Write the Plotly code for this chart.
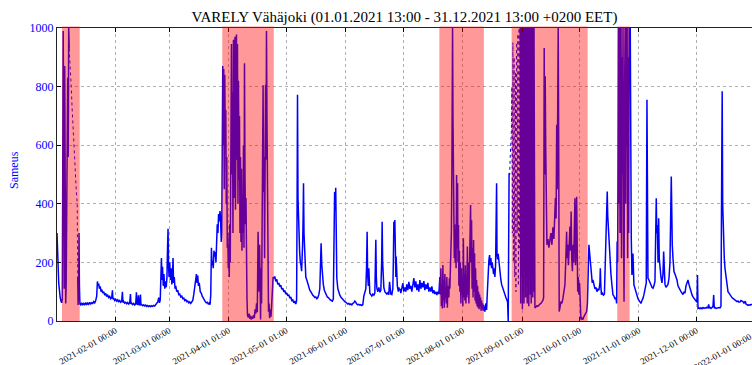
import pandas as pd
import plotly.graph_objects as go

# ---------------- data (day offsets from 2021-01-01 00:00 +0200, turbidity values) -------------
days_jan = [0.52,0.68,0.89,1.10,1.41,1.77,2.19,2.61,2.97,3.29,3.50,3.76,4.02,4.28,4.54,4.80,5.06,5.32,5.58,5.84,
            6.10,6.37,6.63,6.89,7.00,11.32,11.53,11.79,12.00,12.21,12.47,
            12.89,13.41,13.93,14.45,14.98,15.50,16.02,16.54,17.06,17.58,18.10,18.63,19.15,19.67,20.19,20.71,21.23,
            21.60,21.91,22.28,22.64,23.06,23.48,23.84,24.36,24.89,25.41,25.93,26.45,26.97,27.49,28.02,28.54,29.06,
            29.43,29.69,30.10,30.62,31.15,31.67,32.19,32.71,33.23,33.75,34.28,34.64,34.90,35.32,35.84,36.36,36.88,
            37.41,37.93,38.45,38.82,39.08,39.49,40.01,40.54,41.06,41.58,41.95,42.21,42.62,42.99,43.25,43.67,44.03,
            44.29,44.71,45.23,45.75,46.27,46.80,47.32,47.84,48.36,48.88,49.40,49.93,50.45,50.97,51.49,52.01,52.54,
            53.06,53.58,53.95,54.36,54.78,54.99,55.25,55.56,55.93,56.29,56.71,57.13,57.49,57.86,58.17,58.43,58.69,
            58.96,59.32,59.68,60.05,60.42,60.78,61.04,61.30,61.67,62.09,62.45,62.97,63.49,64.01,64.53,65.06,65.58,
            66.10,66.62,67.14,67.66,68.19,68.71,69.23,69.75,70.27,70.79,71.32,71.84,72.36,72.88,73.24,73.56,73.92,
            74.29,74.71,75.23,75.75,76.27,76.79,77.32,77.84,78.36,78.88,79.40,79.92,80.34,80.71,81.07,81.34,81.65,
            82.01,82.38,82.69,83.06,83.42,83.74,84.10,84.47,84.78,85.14,85.51,85.82,86.19,86.45]
vals_jan = [300,240,265,190,130,100,80,68,62,75,400,990,620,110,870,320,60,130,420,760,
            830,560,1000,930,None,150,55,120,300,120,58,
            55,62,54,60,56,63,55,61,57,64,58,62,60,66,62,70,85,
            135,120,128,110,118,100,108,95,100,88,94,84,88,80,84,76,80,
            105,74,78,70,74,68,72,66,70,64,68,100,63,67,61,64,59,
            63,58,62,92,58,61,56,60,55,59,98,56,58,88,54,57,90,
            55,56,52,55,51,54,50,53,49,52,49,52,50,53,51,55,58,
            65,80,62,72,150,215,140,185,120,160,110,135,115,150,250,315,190,
            150,200,140,180,125,165,215,130,150,110,120,100,105,90,92,82,85,
            76,78,70,73,66,68,62,65,60,64,70,90,120,140,160,130,155,
            120,130,100,95,85,78,70,66,62,64,58,62,56,90,250,190,205,
            180,240,220,235,200,240,330,300,365,340,375,350,270,300]

# sparsely logged (dotted) stretch in January
days_jan_dotted = [6.89,7.41,7.93,8.45,8.97,9.50,10.02,10.54,11.06,11.32]
vals_jan_dotted = [930,880,800,720,640,560,500,450,400,150]

days_spring = [86.71,86.97,87.23,87.49,87.75,88.02,88.28,88.54,88.80,89.06,89.32,89.58,89.84,90.10,90.36,90.62,90.88,
               91.15,91.51,91.77,92.03,92.29,92.55,92.82,93.08,93.34,93.60,93.86,94.12,94.38,94.64,94.90,95.16,95.43,
               95.69,95.95,96.21,96.47,96.73,96.99,97.25,97.51,97.77,98.03,98.30,98.56,98.82,99.08,99.34,99.60,99.86,
               100.28,100.70,101.06,101.43,101.84,102.26,102.62,102.99,103.41,103.82,104.19,104.60,104.97,105.39,
               105.65,105.91,106.17,106.43,106.69,106.95,107.21,107.47,107.73,108.00,108.26,108.52,108.78,109.04,
               109.30,109.56,109.77,110.03,110.29,110.55,110.81,111.13,111.39,111.75,112.12,112.43,112.80,113.22,113.58]
vals_spring = [500,870,600,860,450,840,620,720,400,560,250,300,180,260,150,330,200,
               600,945,500,780,300,960,420,670,970,380,700,978,550,945,400,820,480,
               700,300,560,270,520,240,420,300,600,250,880,500,330,420,150,80,20,
               12,25,8,18,5,15,8,20,10,40,25,60,30,305,
               120,100,260,60,5,180,60,300,500,805,440,560,214,700,
               806,550,990,690,440,157,32,60,10,40,15,50,100,150,145]

days_summer = [114.10,114.62,115.15,115.67,116.19,116.71,117.23,117.75,118.28,118.80,119.32,119.84,120.36,120.89,
               121.41,121.93,122.45,122.97,123.49,124.02,124.54,125.06,125.48,125.74,125.95,126.21,126.52,126.78,
               127.04,127.41,127.77,128.08,128.40,128.61,128.87,129.08,129.34,129.60,129.91,130.28,130.80,131.32,
               131.84,132.36,132.89,133.41,133.93,134.45,134.97,135.49,136.02,136.54,137.06,137.58,137.95,138.26,
               138.63,138.99,139.41,139.93,140.45,140.97,141.50,142.02,142.54,143.06,143.58,144.11,144.63,145.04,
               145.30,145.56,145.88,146.14,146.45,
               146.98,147.50,148.02,148.54,149.06,149.58,150.10,150.63,151.15,151.67,152.19,152.71,153.23,153.76,
               154.28,154.80,155.32,155.84,156.37,156.89,157.41,157.93,158.45,158.97,159.50,160.02,160.54,161.06,
               161.58,161.95,162.26,162.52,162.89,163.15,163.41,163.67,164.19,164.71,165.24,165.76,166.28,166.59,
               166.80,167.06,167.32,167.85,168.37,168.89,169.41,169.83,170.09,170.35,170.61,170.97,171.50,172.02,
               172.54,173.06,173.58,173.95,174.26,174.63,175.15,175.67,175.93,176.19,176.45,176.71,176.97,177.24,
               177.39,177.65,178.02,178.54,178.80,179.06,179.48,179.84,180.37,180.89,181.41,181.93,182.45,182.97,
               183.50,184.02,184.54,185.06,185.58,186.11,186.63,187.15,187.67,188.19,188.71,189.24,189.76,190.28,
               190.80,191.32,191.85,192.37,192.89,193.41,193.93,194.45,194.98,195.50,196.02,196.54,197.06,197.58,
               198.11,198.63,199.15,199.67]
vals_summer = [152,135,142,125,130,118,122,108,112,100,104,92,96,86,
               90,78,82,70,72,62,66,58,70,400,772,420,330,260,
               240,200,190,170,210,260,350,470,300,237,190,150,140,125,
               115,105,100,92,88,85,80,82,76,80,90,110,200,265,
               190,150,125,105,95,90,82,80,75,72,70,68,75,300,
               440,380,455,200,146,
               110,95,88,82,78,72,70,66,64,62,58,60,56,58,
               55,60,62,68,60,58,55,57,54,56,53,56,85,100,
               110,180,305,160,120,180,110,95,90,85,92,88,95,180,
               277,150,112,100,115,98,105,200,339,200,146,115,100,95,
               92,96,90,134,95,92,90,110,200,339,300,345,214,150,
               220,146,120,100,115,105,110,95,120,129,100,115,100,125,
               105,134,110,120,100,128,146,115,135,105,125,100,140,110,
               130,115,136,105,125,110,130,100,115,100,118,95,105,92,
               100,89,100,92]

days_july = [200.19,200.51,200.72,200.98,201.24,201.50,201.76,202.02,202.28,202.54,202.80,203.06,203.32,203.58,
             203.84,204.11,204.37,204.63,204.89,205.15,205.41,205.67,205.93,206.19,206.45,206.71,206.82,207.03,
             207.24,207.50,207.71,207.92,208.18,208.39,208.65,208.91,209.12,209.43,209.64,209.90,210.11,210.37,
             210.63,210.89,211.15,211.41,211.67,211.93,212.19,212.45,212.71,212.98,213.24,213.50,213.76,214.02,
             214.28,214.54,214.80,215.06,215.33,215.59,215.90,216.21,216.47,216.73,216.99,217.25,217.51,217.77,
             218.04,218.30,218.56,218.82,219.08,219.34,219.60,219.86,220.12,220.38,220.65,220.91,221.17,221.43,
             221.69,221.95,222.21,222.47,222.73,222.99,223.31,
             223.67,224.19,224.56,224.97,225.39,225.76,226.12,226.44,226.80,227.17,227.48,227.85,228.21,228.52,
             228.89,229.25,229.57,229.78,229.99,230.30,230.61,230.98,231.34,231.66,232.02,232.39,232.80,233.22,
             233.69,234.11,234.63,235.15,235.52,235.83,236.09,236.30,236.40]
vals_july = [150,90,180,50,120,43,191,70,140,45,160,80,100,60,
             150,45,120,100,80,146,110,200,160,300,500,900,1000,700,
             465,300,214,330,200,294,180,498,250,470,200,328,120,240,
             100,200,60,180,90,140,50,282,80,160,70,190,60,150,
             80,254,90,200,60,170,260,396,200,344,110,250,80,276,
             100,231,70,180,60,140,50,120,45,100,40,90,50,80,
             35,70,40,60,35,55,40,
             32,60,38,100,184,207,225,190,215,180,200,170,160,180,
             150,190,300,470,230,210,229,200,180,160,140,125,115,105,
             100,92,80,72,65,0,300,504,None]

# sparsely logged (dotted) stretch at the start of September
days_sep_dotted = [236.30,236.61,236.88,237.19,237.50,237.76,238.02,238.28,238.54,238.91,239.22,239.59,239.85,
                   240.21,240.53,240.89,241.15,241.52,241.78,242.09]
vals_sep_dotted = [504,500,560,606,650,800,300,950,200,900,150,850,100,
                   950,300,980,120,1000,250,1000]

days_sep = [242.09,242.35,242.61,242.82,243.03,243.24,243.44,243.65,243.86,244.07,244.28,244.49,244.70,244.91,
            245.12,245.33,245.54,245.74,245.95,246.16,246.37,246.58,246.79,247.00,247.20,247.41,247.62,247.83,
            248.04,248.25,248.46,248.67,248.87,249.08,249.29,249.50,249.76,250.28,250.80,251.32,251.84,252.37,
            252.89,253.41,253.93,254.30,254.61,254.87,255.13,255.39,255.65,256.02,256.54,257.06,257.59,258.11,
            258.63,259.15,259.67,260.09,260.45,260.82,261.13,261.39,261.65,261.91,262.17,262.43,262.80,263.32,
            263.85,264.37,264.89,265.41,265.83,266.30,266.56,266.87,267.24,267.60,268.02,268.39,268.65,268.96,
            269.32,269.69,270.00,270.37,270.63,270.94,271.25,271.52,271.78,272.09,272.35,272.72,273.03,273.40,
            273.76,274.28,274.80,275.33,275.85,276.37,276.73,277.15]
vals_sep = [1000,60,1000,150,1000,40,1000,100,1000,60,1000,200,1000,80,
            1000,150,1000,60,1000,120,1000,50,1000,200,1000,90,1000,60,
            1000,150,1000,80,1000,100,1000,60,45,48,52,50,55,58,
            60,65,70,80,932,500,835,600,271,260,280,250,275,300,
            260,320,280,374,420,350,670,450,800,1000,600,32,45,66,
            60,77,100,123,200,305,214,260,190,250,322,240,374,214,
            170,260,200,330,419,190,240,424,170,100,150,90,130,89,
            5,10,5,15,20,25,32,60]

days_oct = [277.41,277.93,278.46,278.82,279.24,279.66,280.02,280.54,281.07,281.59,282.11,282.63,283.15,283.67,
            283.88,284.14,284.46,284.98,285.50,286.02,286.44,286.70,287.06,287.48,287.74,288.00,288.37,288.89,
            289.41,289.93,290.45,290.97,291.50,292.02,292.38,292.64,
            292.90,293.16,293.37,293.64,293.90,294.16,294.42,294.68,294.94,295.20,295.46,295.72,295.99,296.25,
            296.56,296.82,297.08,297.34,297.60,297.87,298.13,298.39,298.65,298.91]
vals_oct = [150,260,220,191,150,130,140,120,110,115,100,108,105,130,
            180,120,90,95,88,92,180,250,300,442,360,328,250,214,
            160,123,90,85,75,80,60,271,
            200,600,1000,400,1000,300,700,1000,214,900,500,1000,300,66,
            800,1000,400,1000,600,1000,214,900,300,1000]

days_winter = [299.49,299.75,300.01,300.37,300.89,301.41,301.94,302.46,302.98,303.50,304.02,304.54,305.06,305.59,
               306.11,306.63,307.31,307.83,308.20,308.56,308.72,309.24,309.76,310.28,310.80,311.33,311.85,312.37,
               312.73,313.05,313.31,313.62,313.99,314.30,314.61,314.98,315.50,316.02,316.55,316.91,317.22,317.59,
               318.11,318.63,319.15,319.68,320.20,320.88,321.14,321.40,321.77,322.29,322.81,323.33,323.85,324.37,
               324.90,325.42,325.94,326.46,326.98,327.50,328.03,328.55,329.07,329.59,330.11,330.63,331.16,331.68,
               332.20,332.72,333.24,333.76,334.29,334.55,334.81,335.33,335.85,336.37,336.89,337.42,337.94,338.46,
               338.98,339.50,340.02,340.39,340.70,341.07,341.59,342.11,342.63,343.00,343.31,343.68,344.20,344.72,
               345.24,345.76,346.28,346.80,347.17,347.43,347.69,347.95,348.21,348.53,348.89,349.41,349.93,350.46,
               350.98,351.50,352.02,352.54,353.06,353.59,354.11,354.63,355.15,355.67,356.19,356.72,357.24,357.76,
               358.28,358.80,359.48,359.85,360.37,360.89,361.41,361.94,362.46,362.98,363.50,364.54]
vals_winter = [1000,328,282,157,230,123,110,95,85,77,70,65,60,70,
               77,90,123,130,755,500,146,140,130,126,115,112,120,135,
               300,419,300,328,200,351,214,180,150,130,160,237,150,125,
               115,120,125,145,200,493,305,260,214,169,160,150,140,120,
               112,105,100,95,90,100,95,120,130,140,125,110,100,90,
               82,78,72,68,64,157,43,45,42,45,42,46,43,45,
               44,47,45,57,44,46,43,46,50,89,44,46,43,45,
               44,46,45,50,500,784,400,294,260,214,180,146,120,100,
               95,89,85,80,77,74,72,68,66,68,64,65,70,68,
               66,60,68,58,55,53,55,54,56,58,57,56]

# shaded periods (start day, end day)
span_starts = [3.13, 86.71, 199.93, 237.61, 292.70]
span_ends = [12.37, 113.58, 223.15, 277.26, 299.17]

tick_dates = ["2021-02-01 00:00", "2021-03-01 00:00", "2021-04-01 01:00", "2021-05-01 01:00",
              "2021-06-01 01:00", "2021-07-01 01:00", "2021-08-01 01:00", "2021-09-01 01:00",
              "2021-10-01 01:00", "2021-11-01 00:00", "2021-12-01 00:00"]
last_tick = "2022-01-01 00:00"
y_ticks = [0, 200, 400, 600, 800, 1000]

title_text = "VARELY Vähäjoki (01.01.2021 13:00 - 31.12.2021 13:00 +0200 EET)"
y_title = "Sameus"

# ---------------- build ----------------
base = pd.Timestamp("2021-01-01 00:00")


def to_time(days):
    return base + pd.to_timedelta(days, unit="D")


all_days = days_jan + days_spring + days_summer + days_july + days_sep + days_oct + days_winter
all_vals = vals_jan + vals_spring + vals_summer + vals_july + vals_sep + vals_oct + vals_winter

x_start = base + pd.Timedelta(days=0.52)
x_end = base + pd.Timedelta(days=362.98)

SERIF = "Liberation Serif, Times New Roman, serif"
BLUE = "#0000ff"

fig = go.Figure()
fig.add_trace(go.Scatter(x=to_time(all_days), y=all_vals, mode="lines", connectgaps=False,
                         line=dict(color=BLUE, width=1.5), hoverinfo="skip"))
for d, v in [(days_jan_dotted, vals_jan_dotted), (days_sep_dotted, vals_sep_dotted)]:
    fig.add_trace(go.Scatter(x=to_time(d), y=v, mode="lines",
                             line=dict(color=BLUE, width=1, dash="dot"), hoverinfo="skip"))

for s, e in zip(span_starts, span_ends):
    fig.add_shape(type="rect", xref="x", yref="paper",
                  x0=base + pd.Timedelta(days=s), x1=base + pd.Timedelta(days=e),
                  y0=0, y1=1.005, fillcolor="rgba(255,0,0,0.4)", line=dict(width=0), layer="above")

fig.update_layout(
    width=752, height=365,
    margin=dict(l=57, r=0, t=28, b=44),
    paper_bgcolor="white", plot_bgcolor="white",
    showlegend=False,
    font=dict(family=SERIF, color="black"),
    title=dict(text=title_text, x=0.5, xref="paper", xanchor="center",
               y=1 - 17 / 365, yref="container", yanchor="middle",
               font=dict(family=SERIF, size=15, color="black")),
)

fig.update_xaxes(
    type="date", range=[x_start, x_end],
    tickmode="array", tickvals=tick_dates, ticktext=tick_dates,
    tickangle=-30, tickfont=dict(family=SERIF, size=9, color="black"),
    ticks="inside", ticklen=4, tickcolor="black",
    showline=True, linecolor="#222222", linewidth=1.2, mirror="allticks",
    showgrid=True, gridcolor="#b0b0b0", griddash="dot", gridwidth=1,
    zeroline=False,
)
fig.update_yaxes(
    range=[0, 1000], tickmode="array", tickvals=y_ticks,
    tickfont=dict(family=SERIF, size=12, color=BLUE),
    ticks="inside", ticklen=4, tickcolor="black",
    showline=True, linecolor="#222222", linewidth=1.2,
    showgrid=True, gridcolor="#b0b0b0", griddash="dot", gridwidth=1,
    zeroline=False,
)

fig.add_annotation(text=y_title, xref="paper", yref="paper", x=-0.062, y=0.515,
                   textangle=-90, showarrow=False,
                   font=dict(family=SERIF, size=12, color=BLUE),
                   xanchor="center", yanchor="middle")
fig.add_annotation(text=last_tick, xref="paper", yref="paper", x=1.0056, y=-0.025,
                   textangle=-30, showarrow=False,
                   font=dict(family=SERIF, size=9, color="black"),
                   xanchor="right", yanchor="top")

fig.write_html("out.html")
